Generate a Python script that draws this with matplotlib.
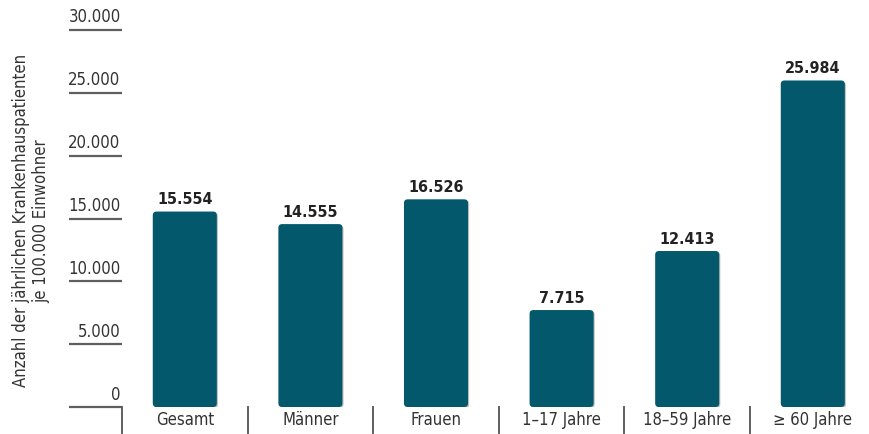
import matplotlib
matplotlib.use("Agg")
import matplotlib.pyplot as plt
import matplotlib.transforms as mtransforms
from matplotlib.patches import FancyBboxPatch
import matplotlib.patheffects as pe

plt.rcParams['font.family'] = ['DejaVu Sans']
plt.rcParams['font.stretch'] = 'condensed'

categories = ['Gesamt', 'Männer', 'Frauen', '1–17 Jahre', '18–59 Jahre', '≥ 60 Jahre']
values = [15554, 14555, 16526, 7715, 12413, 25984]
yticks = [0, 5000, 10000, 15000, 20000, 25000, 30000]

bar_color = '#03596b'
text_color = '#333333'
line_color = '#5f5f5f'

def de_fmt(v):
    return f"{v:,.0f}".replace(',', '.')

fig = plt.figure(figsize=(8.69, 4.34), dpi=100)
ax = fig.add_axes([122 / 869, 27 / 434, 747 / 869, 377 / 434])

x = list(range(len(categories)))
bars = ax.bar(x, values, width=0.51, color=bar_color)

# rounded bars with a soft shadow
for b in bars:
    b.set_visible(False)
    fb = FancyBboxPatch((b.get_x(), b.get_y()), b.get_width(), b.get_height(),
                        boxstyle="round,pad=0,rounding_size=0.03",
                        mutation_aspect=10000, facecolor=bar_color, edgecolor='none',
                        path_effects=[pe.SimplePatchShadow(offset=(0.8, -0.8), shadow_rgbFace='#000000', alpha=0.25),
                                      pe.Normal()])
    ax.add_patch(fb)

ax.bar_label(bars, labels=[de_fmt(v) for v in values], padding=3,
             fontsize=11.5, fontweight='bold', color='#222222')

ax.set_xlim(-0.5, -0.5 + 747 / 125.6)
ax.set_ylim(0, 30000)

for s in ax.spines.values():
    s.set_visible(False)

ax.set_xticks(x)
ax.set_xticklabels(categories, fontsize=12, color=text_color)
ax.tick_params(axis='x', length=0, pad=3)

ax.set_yticks(yticks)
ax.set_yticklabels([de_fmt(v) for v in yticks], fontsize=12, color=text_color, va='bottom')
ax.tick_params(axis='y', direction='out', length=38, width=1.6, color=line_color, pad=-37)
lift = mtransforms.ScaledTranslation(0, 3.5 / 100, fig.dpi_scale_trans)
for lab in ax.get_yticklabels():
    lab.set_transform(lab.get_transform() + lift)

# category separators below the baseline
trans = mtransforms.blended_transform_factory(ax.transData, ax.transAxes)
for i in range(len(categories)):
    ax.plot([i - 0.5, i - 0.5], [0, -0.068], transform=trans, color=line_color,
            linewidth=1.4, clip_on=False)

fig.text(0.036, 0.491, 'Anzahl der jährlichen Krankenhauspatienten\nje 100.000 Einwohner',
         rotation=90, ha='center', va='center', multialignment='center',
         fontsize=12, color=text_color)

fig.savefig('out.png', dpi=100)
